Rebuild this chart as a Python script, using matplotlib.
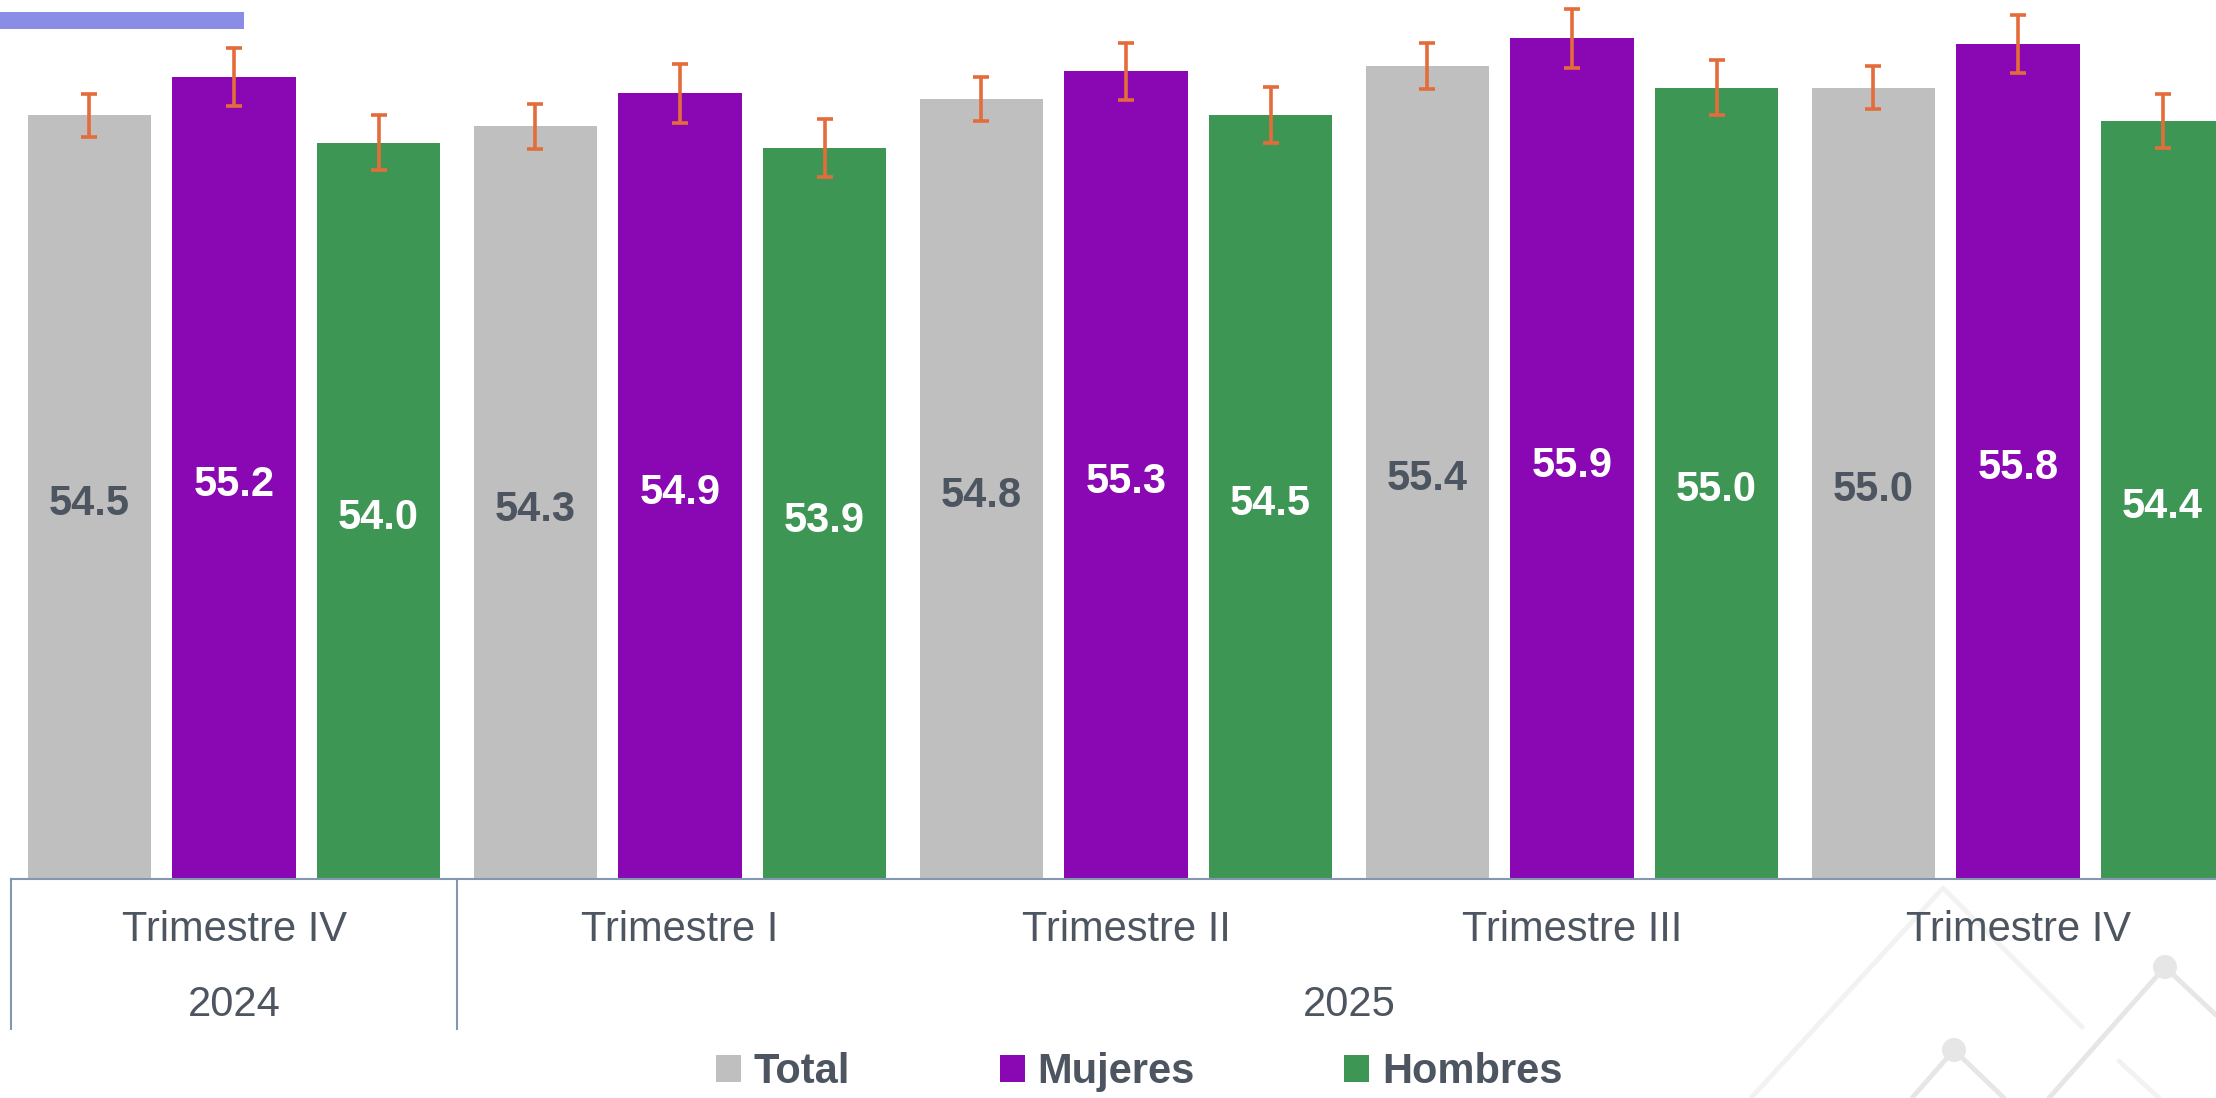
import numpy as np
import matplotlib
matplotlib.use("Agg")
import matplotlib.pyplot as plt
from matplotlib.patches import Patch, Rectangle, Circle
from matplotlib.lines import Line2D

plt.rcParams['font.family'] = ['Liberation Sans', 'DejaVu Sans']

# Data
quarters = ['Trimestre IV', 'Trimestre I', 'Trimestre II', 'Trimestre III', 'Trimestre IV']
years = ['2024', '2025']
series = ['Total', 'Mujeres', 'Hombres']
total = [54.5, 54.3, 54.8, 55.4, 55.0]
mujeres = [55.2, 54.9, 55.3, 55.9, 55.8]
hombres = [54.0, 53.9, 54.5, 55.0, 54.4]
err_total = [0.39, 0.41, 0.40, 0.42, 0.39]
err_mujeres = [0.53, 0.54, 0.52, 0.54, 0.52]
err_hombres = [0.50, 0.53, 0.51, 0.50, 0.49]

colors = ['#BFBFBF', '#8A07B4', '#3E9655']
label_colors = ['#4D5660', 'white', 'white']
text_col = '#4D5660'
axis_col = '#8497B0'
err_col = '#E46C3A'

W, H = 2216, 1098
fig = plt.figure(figsize=(W / 100, H / 100), dpi=100)
ax = fig.add_axes([11 / W, (H - 879) / H, 1 - 11 / W, 879 / H])
ax.set_facecolor('none')

ymin, ymax = 40.6, 56.6
x = np.arange(len(quarters))
step, width = 0.324, 0.276

for k, (vals, errs) in enumerate(zip([total, mujeres, hombres],
                                     [err_total, err_mujeres, err_hombres])):
    xs = x + (k - 1) * step
    ax.bar(xs, np.array(vals) - ymin, width=width, bottom=ymin, color=colors[k],
           label=series[k], zorder=2)
    ax.errorbar(xs, vals, yerr=errs, fmt='none', ecolor=err_col, elinewidth=2.6,
                capsize=6, capthick=2.6, zorder=3)
    for xi, v in zip(xs, vals):
        ax.annotate(f'{v:.1f}', (xi, (v + ymin) / 2), xytext=(0, -5),
                    textcoords='offset points', ha='center', va='center',
                    fontsize=30, fontweight='bold', color=label_colors[k], zorder=4)

ax.set_xlim(-0.5, -0.5 + (W - 11) / 446)
ax.set_ylim(ymin, ymax)
ax.set_xticks([])
ax.set_yticks([])
for s in ['top', 'right', 'left']:
    ax.spines[s].set_visible(False)
ax.spines['bottom'].set_color(axis_col)
ax.spines['bottom'].set_linewidth(1.5)

# category axis: quarter labels, year labels and separators
def ay(py):
    return (879 - py) / 879

trans = ax.get_xaxis_transform()
for xi, q in zip(x, quarters):
    ax.text(xi, ay(930), q, transform=trans, ha='center', va='center',
            fontsize=30, color=text_col)
ax.text(0, ay(1005), years[0], transform=trans, ha='center', va='center',
        fontsize=30, color=text_col)
ax.text(2.5, ay(1005), years[1], transform=trans, ha='center', va='center',
        fontsize=30, color=text_col)
for xb in [-0.5, 0.5]:
    ax.plot([xb, xb], [0, ay(1029)], transform=trans, color=axis_col,
            lw=1.5, clip_on=False)

# legend
handles = [Patch(facecolor=c, edgecolor='none') for c in colors]
leg = fig.legend(handles, series, loc='center', bbox_to_anchor=(1139 / W, 1 - 1072 / H),
                 ncol=3, frameon=False, handlelength=0.6, handleheight=0.6,
                 handletextpad=0.3, columnspacing=3.6,
                 prop={'size': 30, 'weight': 'bold'})
for t in leg.get_texts():
    t.set_color(text_col)

# decorative top bar
fig.add_artist(Rectangle((0, 1 - 29 / H), 244 / W, 17 / H, transform=fig.transFigure,
                         facecolor='#8A8CE6', edgecolor='none'))

# faint background decoration, bottom right
def fx(p):
    return [v / W for v in p]

def fy(p):
    return [1 - v / H for v in p]

deco = [
    ([1751, 1943, 2082], [1098, 888, 1027], '#F2F2F2'),
    ([1912, 1954, 2004], [1098, 1050, 1098], '#E6E6E6'),
    ([2049, 2165, 2216], [1098, 967, 1015], '#E6E6E6'),
    ([2119, 2159], [1061, 1098], '#F2F2F2'),
]
for px, py, c in deco:
    fig.add_artist(Line2D(fx(px), fy(py), transform=fig.transFigure, color=c,
                          lw=3.5, solid_capstyle='round', zorder=0))
for cx, cy in [(1954, 1050), (2165, 967)]:
    fig.add_artist(Circle((cx, H - cy), 12, transform=None, facecolor='#E6E6E6',
                          edgecolor='none', zorder=0))

fig.savefig('out.png', dpi=100, facecolor='white')
